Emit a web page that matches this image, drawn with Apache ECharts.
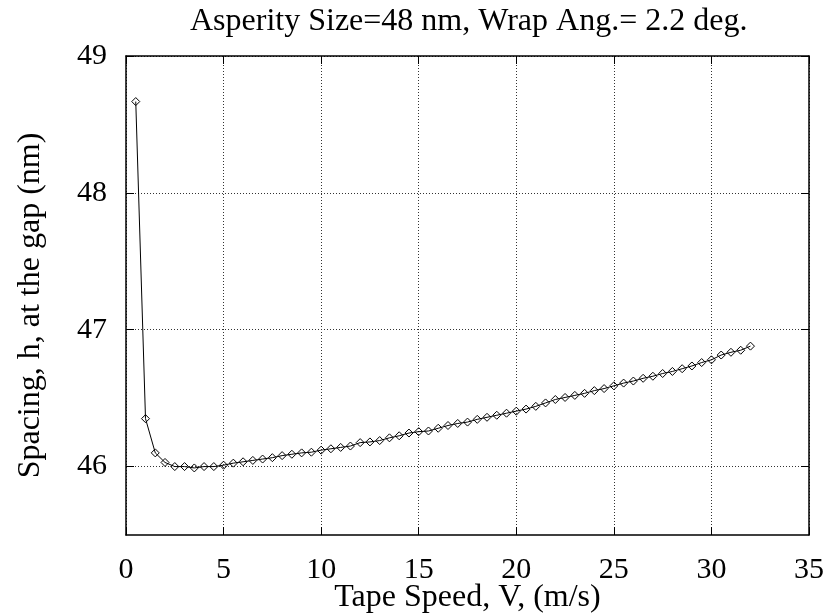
<!DOCTYPE html>
<html>
<head>
<meta charset="utf-8">
<script src="https://cdn.jsdelivr.net/npm/echarts@6/dist/echarts.min.js"></script>
<style>html,body{margin:0;padding:0;background:#fff}#c{width:828px;height:616px}</style>
</head>
<body>
<div id="c"></div>
<script>
var titleText = 'Asperity Size=48 nm, Wrap Ang.= 2.2 deg.';
var xName = 'Tape Speed, V, (m/s)';
var yName = 'Spacing, h, at the gap (nm)';
var speeds = [0.5,1.0,1.5,2.0,2.5,3.0,3.5,4.0,4.5,5.0,5.5,6.0,6.5,7.0,7.5,8.0,8.5,9.0,9.5,10.0,
  10.5,11.0,11.5,12.0,12.5,13.0,13.5,14.0,14.5,15.0,15.5,16.0,16.5,17.0,17.5,18.0,18.5,19.0,19.5,20.0,
  20.5,21.0,21.5,22.0,22.5,23.0,23.5,24.0,24.5,25.0,25.5,26.0,26.5,27.0,27.5,28.0,28.5,29.0,29.5,30.0,
  30.5,31.0,31.5,32.0];
var spacing = [48.667,46.35,46.10,46.03,46.00,46.00,45.99,46.00,46.00,46.01,46.025,46.035,46.045,46.055,46.065,46.08,46.09,46.10,46.105,46.12,
  46.13,46.14,46.15,46.175,46.18,46.19,46.21,46.225,46.245,46.255,46.26,46.28,46.30,46.315,46.325,46.345,46.36,46.375,46.39,46.405,
  46.42,46.44,46.465,46.49,46.505,46.52,46.535,46.555,46.57,46.59,46.61,46.625,46.645,46.66,46.68,46.695,46.715,46.735,46.76,46.78,
  46.815,46.835,46.85,46.88];
var yTicks = [46, 47, 48, 49];

var font = "'Liberation Serif','Times New Roman',serif";
var pts = speeds.map(function (x, i) { return [x, spacing[i]]; });
var gridLine = {show: true, lineStyle: {color: '#333', width: 1, type: [1, 2]}};
var axLine = {show: true, onZero: false, lineStyle: {color: '#000', width: 1.5}};
var tick = {show: true, inside: true, length: 8, lineStyle: {color: '#000', width: 1}};

var chart = echarts.init(document.getElementById('c'), null, {renderer: 'canvas'});
chart.setOption({
  animation: false,
  backgroundColor: '#fff',
  title: {
    text: titleText, left: 185, top: 1,
    textStyle: {fontFamily: font, fontSize: 32, fontWeight: 'normal', color: '#000'}
  },
  grid: {left: 126, right: 19, top: 56, bottom: 81, containLabel: false, outerBoundsMode: 'none'},
  xAxis: [{
    type: 'value', min: 0, max: 35, interval: 5, position: 'bottom',
    name: xName, nameLocation: 'middle', nameGap: 47, nameMoveOverlap: false,
    nameTextStyle: {fontFamily: font, fontSize: 32, color: '#000'},
    axisLine: axLine, axisTick: tick,
    axisLabel: {fontFamily: font, fontSize: 30, color: '#000', margin: 20},
    splitLine: gridLine
  }, {
    type: 'value', min: 0, max: 35, interval: 5, position: 'top',
    axisLine: axLine, axisTick: tick, axisLabel: {show: false}, splitLine: {show: false}
  }],
  yAxis: [{
    type: 'value', min: 45.5, max: 49, position: 'left',
    name: yName, nameLocation: 'middle', nameGap: 79, nameRotate: 90, nameMoveOverlap: false,
    nameTextStyle: {fontFamily: font, fontSize: 32, color: '#000', padding: [0, 20, 0, 0]},
    axisLine: axLine,
    axisTick: {show: true, inside: true, length: 8, lineStyle: {color: '#000', width: 1}, customValues: yTicks},
    axisLabel: {fontFamily: font, fontSize: 30, color: '#000', margin: 19, customValues: yTicks},
    splitLine: gridLine
  }, {
    type: 'value', min: 45.5, max: 49, position: 'right',
    axisLine: axLine,
    axisTick: {show: true, inside: true, length: 8, lineStyle: {color: '#000', width: 1}, customValues: yTicks},
    axisLabel: {show: false, customValues: yTicks},
    splitLine: {show: false}
  }],
  series: [{
    type: 'line', xAxisIndex: 0, yAxisIndex: 0,
    data: pts,
    symbol: 'diamond', symbolSize: 8, showSymbol: true,
    lineStyle: {color: '#000', width: 1},
    itemStyle: {color: 'rgba(0,0,0,0)', borderColor: '#000', borderWidth: 1},
    emphasis: {disabled: true}
  }]
});
</script>
</body>
</html>
